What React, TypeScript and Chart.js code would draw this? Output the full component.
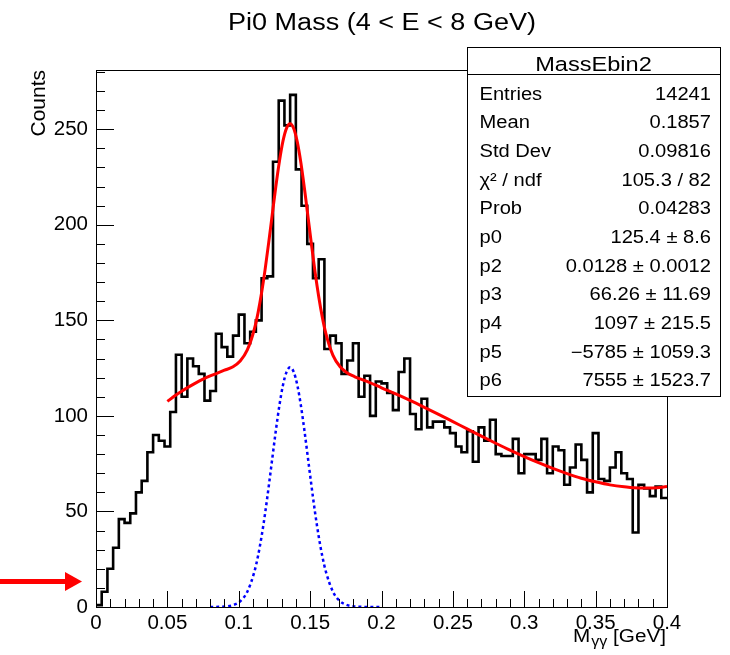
import React, { useEffect, useRef } from "react";
import { Chart, registerables } from "chart.js";

Chart.register(...registerables);

// ---------------- data ----------------
const titleText = "Pi0 Mass (4 < E < 8 GeV)";
const yAxisTitle = "Counts";
const xAxisTitleMain = "M";
const xAxisTitleSub = "γγ";
const xAxisTitleUnit = " [GeV]";

const xMin = 0;
const xMax = 0.4;
const yMin = 0;
const yMax = 281;
const binWidth = 0.004;

// histogram bin contents (100 bins, 0 .. 0.4 GeV)
const counts = [
  1, 8, 20, 31, 46, 44, 49, 60, 66, 81,
  90, 87, 84, 102, 132, 110, 130, 126, 122, 108,
  113, 143, 136, 131, 142, 153, 138, 144, 150, 172,
  173, 233, 265, 252, 268, 229, 210, 190, 172, 182,
  135, 142, 138, 122, 129, 138, 110, 121, 100, 118,
  117, 112, 103, 123, 130, 101, 93, 109, 94, 97,
  97, 94, 91, 84, 81, 92, 76, 94, 87, 98,
  80, 79, 79, 88, 70, 80, 80, 77, 88, 70,
  84, 82, 64, 73, 85, 77, 60, 91, 67, 66,
  73, 81, 70, 67, 39, 64, 62, 58, 63, 57,
];

// total fit (red)
const fitX = [
  0.05, 0.055, 0.06, 0.065, 0.07, 0.075, 0.08, 0.085, 0.09, 0.096,
  0.101, 0.106, 0.111, 0.1135, 0.116, 0.1185, 0.121, 0.1235, 0.126, 0.1285,
  0.131, 0.1335, 0.136, 0.1385, 0.141, 0.1435, 0.146, 0.1485, 0.151, 0.1535,
  0.156, 0.1585, 0.161, 0.166, 0.171, 0.176, 0.181, 0.186, 0.191, 0.2,
  0.21, 0.22, 0.23, 0.24, 0.25, 0.26, 0.27, 0.28, 0.29, 0.3,
  0.31, 0.32, 0.33, 0.34, 0.35, 0.36, 0.37, 0.38, 0.39, 0.4,
];
const fitY = [
  107.6, 110.4, 112.9, 115.2, 117.3, 119.2, 120.9, 122.4, 123.9, 125.7,
  128.7, 134.5, 145.6, 153.9, 164.4, 176.8, 190.8, 205.5, 220.2, 233.3,
  243.9, 250.6, 252.9, 250.4, 243.4, 232.6, 219.1, 204.3, 189.3, 175.0,
  162.5, 151.8, 143.2, 131.7, 125.7, 122.5, 120.6, 119.1, 117.7, 114.7,
  111.5, 108.1, 104.5, 100.8, 97.0, 93.2, 89.4, 85.7, 82.1, 78.7,
  75.5, 72.5, 69.8, 67.4, 65.5, 63.9, 62.9, 62.3, 62.3, 63.0,
];

// signal gaussian component (blue dotted)
const gausX = [
  0.08, 0.086, 0.091, 0.096, 0.101, 0.106, 0.111, 0.1135, 0.116, 0.1185,
  0.121, 0.1235, 0.126, 0.1285, 0.131, 0.1335, 0.136, 0.1385, 0.141, 0.1435,
  0.146, 0.1485, 0.151, 0.1535, 0.156, 0.1585, 0.161, 0.166, 0.171, 0.176,
  0.181, 0.186, 0.191, 0.196, 0.2,
];
const gausY = [
  0.0, 0.1, 0.3, 1.0, 3.0, 8.0, 18.6, 26.7, 37.0, 49.2,
  63.1, 77.8, 92.4, 105.6, 116.2, 123.0, 125.4, 123.0, 116.2, 105.6,
  92.4, 77.8, 63.1, 49.2, 37.0, 26.7, 18.6, 8.0, 3.0, 1.0,
  0.3, 0.1, 0.0, 0.0, 0.0,
];

const xTicks = [0, 0.05, 0.1, 0.15, 0.2, 0.25, 0.3, 0.35, 0.4];
const xTickLabels = ["0", "0.05", "0.1", "0.15", "0.2", "0.25", "0.3", "0.35", "0.4"];
const yTicks = [0, 50, 100, 150, 200, 250];
const yTickLabels = ["0", "50", "100", "150", "200", "250"];

const statsTitle = "MassEbin2";
const statsLabels = [
  "Entries", "Mean", "Std Dev", "χ² / ndf", "Prob",
  "p0", "p2", "p3", "p4", "p5", "p6",
];
const statsValues = [
  "14241", "0.1857", "0.09816", "105.3 / 82", "0.04283",
  "125.4 ± 8.6", "0.0128 ± 0.0012", "66.26 ± 11.69", "1097 ± 215.5",
  "−5785 ± 1059.3", "7555 ± 1523.7",
];

// ---------------- style ----------------
const W = 730;
const H = 655;
const FONT = '"Liberation Sans", Arial, Helvetica, sans-serif';
const SX = 1.15;

function sText(
  ctx: CanvasRenderingContext2D,
  text: string,
  x: number,
  y: number,
  size: number,
  align: "left" | "right" | "center",
  sx: number = SX,
  color: string = "#000"
) {
  ctx.save();
  ctx.font = `${size}px ${FONT}`;
  ctx.textBaseline = "alphabetic";
  ctx.textAlign = "left";
  ctx.fillStyle = color;
  const w = ctx.measureText(text).width * sx;
  const x0 = align === "left" ? x : align === "right" ? x - w : x - w / 2;
  ctx.translate(x0, y);
  ctx.scale(sx, 1);
  ctx.fillText(text, 0, 0);
  ctx.restore();
  return w;
}

const rootPlugin = {
  id: "rootStyle",
  afterDatasetsDraw(chart: any) {
    const ctx: CanvasRenderingContext2D = chart.ctx;
    const { left, right, top, bottom } = chart.chartArea;
    const xs = chart.scales.x;
    const ys = chart.scales.y;
    ctx.save();
    ctx.strokeStyle = "#000";
    ctx.lineWidth = 1;
    // frame
    ctx.strokeRect(Math.round(left) + 0.5, Math.round(top) + 0.5, Math.round(right - left), Math.round(bottom - top));
    ctx.beginPath();
    // y ticks (inside)
    for (let v = 0; v <= yMax; v += 10) {
      const py = Math.round(ys.getPixelForValue(v)) + 0.5;
      const len = v % 50 === 0 ? 18 : 9;
      ctx.moveTo(left, py);
      ctx.lineTo(left + len, py);
    }
    // x ticks (inside)
    for (let k = 0; k <= 40; k++) {
      const v = k * 0.01;
      const px = Math.round(xs.getPixelForValue(v)) + 0.5;
      const len = k % 5 === 0 ? 16 : 8;
      ctx.moveTo(px, bottom);
      ctx.lineTo(px, bottom - len);
    }
    ctx.stroke();
    ctx.restore();
  },
  afterDraw(chart: any) {
    const ctx: CanvasRenderingContext2D = chart.ctx;
    const { right, top } = chart.chartArea;
    ctx.save();
    // stats box
    const bx0 = 467, by0 = 47, bx1 = 720, by1 = 396;
    ctx.fillStyle = "#fff";
    ctx.fillRect(bx0, by0, bx1 - bx0, by1 - by0);
    ctx.strokeStyle = "#000";
    ctx.lineWidth = 1;
    ctx.strokeRect(bx0 + 0.5, by0 + 0.5, bx1 - bx0, by1 - by0);
    ctx.beginPath();
    ctx.moveTo(bx0, 74.5);
    ctx.lineTo(bx1, 74.5);
    ctx.stroke();
    sText(ctx, statsTitle, (bx0 + bx1) / 2, 71, 20.5, "center");
    for (let i = 0; i < statsLabels.length; i++) {
      const base = 99.5 + 28.67 * i;
      sText(ctx, statsLabels[i], 479.5, base, 17.5, "left");
      sText(ctx, statsValues[i], 711, base, 17.5, "right");
    }

    // title
    sText(ctx, titleText, 382, 30, 23.5, "center");

    // y axis title (rotated)
    ctx.save();
    ctx.font = `21px ${FONT}`;
    ctx.fillStyle = "#000";
    ctx.textAlign = "right";
    ctx.textBaseline = "alphabetic";
    ctx.translate(45, top);
    ctx.rotate(-Math.PI / 2);
    ctx.fillText(yAxisTitle, 0, 0);
    ctx.restore();

    // x axis title, right aligned at frame right edge
    ctx.save();
    ctx.font = `18px ${FONT}`;
    const wMain = ctx.measureText(xAxisTitleMain).width * SX;
    const wUnit = ctx.measureText(xAxisTitleUnit).width * SX;
    ctx.font = `14px ${FONT}`;
    const wSub = ctx.measureText(xAxisTitleSub).width * SX;
    ctx.restore();
    const endX = right - 1;
    const startX = endX - (wMain + wSub + wUnit + 1);
    sText(ctx, xAxisTitleMain, startX, 642, 18, "left");
    sText(ctx, xAxisTitleSub, startX + wMain + 1, 646, 14, "left");
    sText(ctx, xAxisTitleUnit, endX, 642, 18, "right");

    // red arrow annotation
    ctx.fillStyle = "#ff0000";
    ctx.fillRect(0, 579, 67, 5);
    ctx.beginPath();
    ctx.moveTo(65, 572);
    ctx.lineTo(82, 581.5);
    ctx.lineTo(65, 591);
    ctx.closePath();
    ctx.fill();
    ctx.restore();
  },
};

export default function App() {
  const canvasRef = useRef<HTMLCanvasElement | null>(null);

  useEffect(() => {
    const canvas = canvasRef.current;
    if (!canvas) return;

    const histPoints = counts.map((c, i) => ({ x: i * binWidth, y: c }));
    histPoints.push({ x: xMax, y: counts[counts.length - 1] });
    const fitPoints = fitX.map((x, i) => ({ x, y: fitY[i] }));
    const gausPoints = gausX.map((x, i) => ({ x, y: gausY[i] }));

    const chart = new Chart(canvas, {
      type: "line",
      data: {
        datasets: [
          {
            label: "fit",
            data: fitPoints,
            borderColor: "#ff0000",
            borderWidth: 3,
            pointRadius: 0,
            fill: false,
            cubicInterpolationMode: "monotone",
            order: 0,
          },
          {
            label: "signal",
            data: gausPoints,
            borderColor: "#0000ff",
            borderWidth: 2.5,
            borderDash: [3, 3],
            pointRadius: 0,
            fill: false,
            cubicInterpolationMode: "monotone",
            order: 1,
          },
          {
            label: "MassEbin2",
            data: histPoints,
            borderColor: "#000000",
            borderWidth: 2.6,
            pointRadius: 0,
            fill: false,
            stepped: "before",
            order: 2,
          },
        ],
      },
      options: {
        animation: false,
        responsive: false,
        maintainAspectRatio: false,
        devicePixelRatio: 1,
        layout: { padding: { left: 46, top: 70, right: 63, bottom: 8 } },
        plugins: {
          legend: { display: false },
          tooltip: { enabled: false },
          title: { display: false },
        },
        scales: {
          x: {
            type: "linear",
            min: xMin,
            max: xMax,
            grid: { display: false, drawTicks: false },
            border: { display: false },
            afterFit: (s: any) => {
              s.height = 40;
            },
            afterBuildTicks: (s: any) => {
              s.ticks = xTicks.map((v) => ({ value: v }));
            },
            ticks: {
              autoSkip: false,
              maxRotation: 0,
              minRotation: 0,
              padding: 4,
              color: "#000",
              font: { family: FONT, size: 20.5 },
              callback: (_v: any, i: number) => xTickLabels[i],
            },
          },
          y: {
            type: "linear",
            min: yMin,
            max: yMax,
            grid: { display: false, drawTicks: false },
            border: { display: false },
            afterFit: (s: any) => {
              s.width = 50;
            },
            afterBuildTicks: (s: any) => {
              s.ticks = yTicks.map((v) => ({ value: v }));
            },
            ticks: {
              padding: 8,
              color: "#000",
              font: { family: FONT, size: 20.5 },
              callback: (_v: any, i: number) => yTickLabels[i],
            },
          },
        },
      },
      plugins: [rootPlugin],
    } as any);

    return () => {
      chart.destroy();
    };
  }, []);

  return (
    <div style={{ position: "absolute", left: 0, top: 0, width: W, height: H, background: "#fff" }}>
      <canvas ref={canvasRef} width={W} height={H} style={{ display: "block", width: W, height: H }} />
    </div>
  );
}
